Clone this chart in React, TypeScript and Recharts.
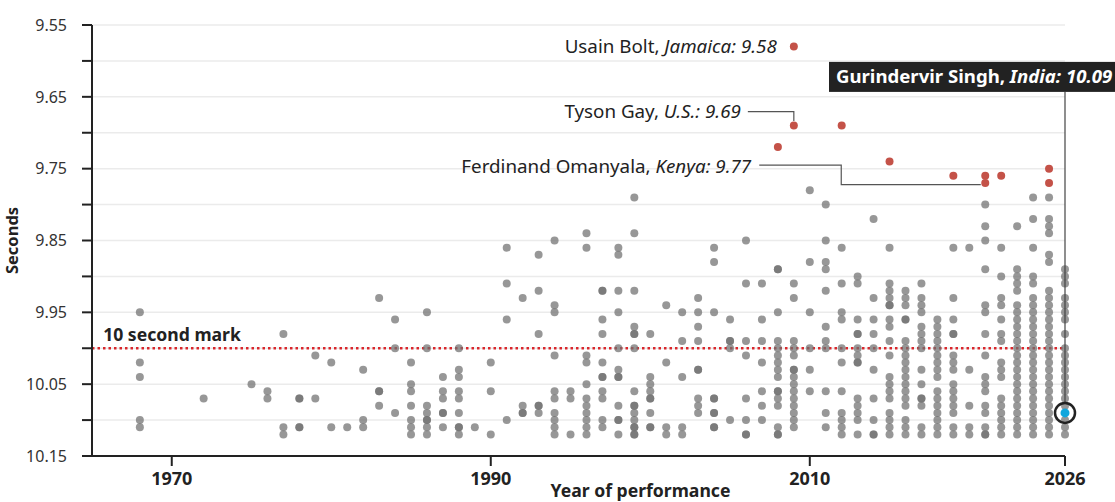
import React from 'react';
import { ScatterChart, Scatter, XAxis, YAxis, CartesianGrid, ReferenceLine, ReferenceDot } from 'recharts';

// axis ticks
const yearTicks = [1970, 1990, 2010, 2026];
const secondTicks = [9.55, 9.6, 9.65, 9.7, 9.75, 9.8, 9.85, 9.9, 9.95, 10, 10.05, 10.1, 10.15];
const labelledSecondTicks = [9.55, 9.65, 9.75, 9.85, 9.95, 10.05, 10.15];

// sub-10.13 performances, [year, times]
const gray1960s1970s: [number, number[]][] = [
  [1968, [9.95, 10.02, 10.04, 10.1, 10.11]],
  [1972, [10.07]],
  [1975, [10.05]],
  [1976, [10.06, 10.07]],
  [1977, [9.98, 10.11, 10.12]],
  [1978, [10.07, 10.07, 10.11, 10.11]],
  [1979, [10.01, 10.07]],
];

const gray1980s: [number, number[]][] = [
  [1980, [10.02, 10.11]],
  [1981, [10.11]],
  [1982, [10.03, 10.1, 10.11]],
  [1983, [9.93, 10.06, 10.06, 10.08]],
  [1984, [9.96, 10.0, 10.09]],
  [1985, [10.02, 10.05, 10.06, 10.08, 10.1, 10.11, 10.12]],
  [1986, [9.95, 10.0, 10.08, 10.09, 10.1, 10.1, 10.11, 10.12]],
  [1987, [10.04, 10.06, 10.07, 10.09, 10.09, 10.11]],
  [1988, [10.0, 10.03, 10.04, 10.06, 10.07, 10.09, 10.11, 10.11, 10.12]],
  [1989, [10.11]],
];

const gray1990s: [number, number[]][] = [
  [1990, [10.02, 10.06, 10.12]],
  [1991, [9.86, 9.91, 9.96, 10.1]],
  [1992, [9.93, 10.08, 10.09, 10.09]],
  [1993, [9.87, 9.92, 9.98, 10.08, 10.08, 10.09]],
  [1994, [9.85, 9.94, 9.95, 10.01, 10.06, 10.07, 10.09, 10.1, 10.11, 10.12]],
  [1995, [10.06, 10.07, 10.12]],
  [1996, [9.84, 9.86, 10.01, 10.02, 10.05, 10.07, 10.08, 10.09, 10.1, 10.11, 10.12]],
  [1997, [9.92, 9.92, 9.96, 9.98, 10.02, 10.04, 10.04, 10.06, 10.07, 10.1, 10.11]],
  [1998, [9.86, 9.87, 9.92, 9.95, 10.0, 10.03, 10.04, 10.04, 10.08, 10.1, 10.1, 10.12]],
  [1999, [9.79, 9.84, 9.92, 9.97, 9.98, 9.98, 10.0, 10.06, 10.08, 10.08, 10.09, 10.1, 10.11, 10.11, 10.12, 10.12]],
];

const gray2000s: [number, number[]][] = [
  [2000, [9.98, 10.04, 10.05, 10.06, 10.07, 10.07, 10.09, 10.11, 10.11]],
  [2001, [9.94, 10.02, 10.11, 10.12]],
  [2002, [9.95, 9.99, 10.04, 10.11, 10.12]],
  [2003, [9.93, 9.95, 9.97, 9.99, 10.03, 10.03, 10.07, 10.08, 10.09]],
  [2004, [9.86, 9.88, 9.95, 10.07, 10.07, 10.09, 10.09, 10.11, 10.11]],
  [2005, [9.96, 9.99, 9.99, 10.0, 10.1]],
  [2006, [9.85, 9.91, 9.99, 10.01, 10.07, 10.1, 10.12, 10.12]],
  [2007, [9.91, 9.96, 9.99, 10.02, 10.06, 10.08, 10.1]],
  [2008, [9.89, 9.89, 9.95, 9.99, 10.0, 10.01, 10.02, 10.03, 10.04, 10.06, 10.06, 10.07, 10.08, 10.11, 10.12, 10.12]],
  [2009, [9.91, 9.93, 9.99, 10.0, 10.01, 10.03, 10.03, 10.04, 10.05, 10.06, 10.07, 10.08, 10.09, 10.1, 10.11]],
];

const gray2010s: [number, number[]][] = [
  [2010, [9.78, 9.88, 9.95, 10.0, 10.03, 10.06]],
  [2011, [9.8, 9.85, 9.88, 9.89, 9.92, 9.97, 9.99, 10.0, 10.06, 10.09, 10.11]],
  [2012, [9.86, 9.91, 9.95, 9.96, 10.0, 10.02, 10.06, 10.09, 10.1, 10.11, 10.12]],
  [2013, [9.9, 9.91, 9.96, 9.98, 9.98, 10.0, 10.01, 10.02, 10.02, 10.07, 10.08, 10.09, 10.1, 10.12]],
  [2014, [9.82, 9.93, 9.96, 9.98, 10.0, 10.03, 10.07, 10.1, 10.12, 10.12]],
  [2015, [9.86, 9.91, 9.92, 9.93, 9.94, 9.94, 9.96, 9.97, 9.99, 10.01, 10.04, 10.05, 10.06, 10.07, 10.09, 10.1, 10.11, 10.12]],
  [2016, [9.92, 9.93, 9.94, 9.96, 9.96, 9.99, 10.0, 10.01, 10.02, 10.03, 10.04, 10.05, 10.06, 10.07, 10.08, 10.1, 10.11, 10.12]],
  [2017, [9.91, 9.93, 9.94, 9.95, 9.97, 9.98, 9.99, 10.0, 10.03, 10.05, 10.07, 10.07, 10.08, 10.11, 10.12]],
  [2018, [9.96, 9.97, 9.98, 9.99, 10.0, 10.01, 10.02, 10.03, 10.04, 10.06, 10.07, 10.08, 10.09, 10.1, 10.11, 10.12]],
  [2019, [9.86, 9.93, 9.96, 9.98, 9.98, 10.01, 10.02, 10.03, 10.05, 10.06, 10.07, 10.08, 10.09, 10.11, 10.12]],
];

const gray2020s: [number, number[]][] = [
  [2020, [9.86, 10.03, 10.08, 10.11, 10.12]],
  [2021, [9.8, 9.83, 9.85, 9.89, 9.94, 9.95, 9.98, 10.01, 10.04, 10.05, 10.06, 10.08, 10.09, 10.11, 10.12, 10.12]],
  [2022, [9.86, 9.9, 9.93, 9.94, 9.96, 9.98, 9.99, 10.02, 10.03, 10.04, 10.07, 10.08, 10.09, 10.1, 10.11, 10.12]],
  [2023, [9.83, 9.89, 9.9, 9.91, 9.92, 9.94, 9.95, 9.96, 9.97, 9.98, 9.99, 10.0, 10.01, 10.02, 10.03, 10.04, 10.05, 10.06, 10.07, 10.08, 10.09, 10.1, 10.11, 10.12]],
  [2024, [9.79, 9.82, 9.86, 9.9, 9.91, 9.93, 9.94, 9.95, 9.96, 9.97, 9.98, 9.99, 10.0, 10.01, 10.02, 10.03, 10.04, 10.05, 10.06, 10.07, 10.08, 10.09, 10.1, 10.11, 10.12]],
  [2025, [9.79, 9.82, 9.83, 9.84, 9.87, 9.88, 9.92, 9.93, 9.94, 9.95, 9.96, 9.97, 9.98, 9.99, 10.0, 10.01, 10.02, 10.03, 10.04, 10.05, 10.06, 10.07, 10.08, 10.09, 10.1, 10.11, 10.12]],
  [2026, [9.89, 9.9, 9.91, 9.93, 9.94, 9.95, 9.96, 9.98, 10.0, 10.01, 10.02, 10.03, 10.04, 10.05, 10.06, 10.07, 10.08, 10.1, 10.11, 10.12]],
];

// fastest ever (red)
const fastestYears = [2008, 2009, 2009, 2012, 2015, 2019, 2021, 2021, 2022, 2025, 2025];
const fastestTimes = [9.72, 9.58, 9.69, 9.69, 9.74, 9.76, 9.76, 9.77, 9.76, 9.75, 9.77];

// highlighted runner
const singhYear = 2026;
const singhTime = 10.09;

const tenSecondMark = 10;

const grayPoints = [...gray1960s1970s, ...gray1980s, ...gray1990s, ...gray2000s, ...gray2010s, ...gray2020s].flatMap(
  ([year, times]) => times.map((time) => ({ year, time }))
);
const redPoints = fastestYears.map((year, i) => ({ year, time: fastestTimes[i] }));
const singhPoints = [{ year: singhYear, time: singhTime }];

const INK = '#222';
const NOTE_SIZE = 18.8;

const GrayDot = (p: any) => <circle cx={p.cx} cy={p.cy} r={4} fill="#707070" fillOpacity={0.73} />;
const RedDot = (p: any) => <circle cx={p.cx} cy={p.cy} r={4} fill="#c45248" />;
const SinghDot = (p: any) => (
  <g>
    <circle cx={p.cx} cy={p.cy} r={10} fill="none" stroke={INK} strokeWidth={2.5} />
    <circle cx={p.cx} cy={p.cy} r={4.5} fill="#10a6dd" />
  </g>
);

const BoltLabel = (p: any) => (
  <text x={p.cx - 17} y={p.cy} dy="0.35em" textAnchor="end" fontSize={NOTE_SIZE} fill={INK}>
    Usain Bolt, <tspan fontStyle="italic">Jamaica: 9.58</tspan>
  </text>
);

const GayLabel = (p: any) => (
  <g>
    <path d={`M${p.cx - 46},${p.cy - 14} H${p.cx} V${p.cy - 4.5}`} fill="none" stroke="#555" strokeWidth={1.2} />
    <text x={p.cx - 53} y={p.cy - 14} dy="0.35em" textAnchor="end" fontSize={NOTE_SIZE} fill={INK}>
      Tyson Gay, <tspan fontStyle="italic">U.S.: 9.69</tspan>
    </text>
  </g>
);

const OmanyalaLabel = (p: any) => (
  <g>
    <path
      d={`M${p.cx - 226},${p.cy - 18} H${p.cx - 144} V${p.cy + 1.5} H${p.cx - 4.5}`}
      fill="none"
      stroke="#555"
      strokeWidth={1.2}
    />
    <text x={p.cx - 234} y={p.cy - 16.5} dy="0.35em" textAnchor="end" fontSize={NOTE_SIZE} fill={INK}>
      Ferdinand Omanyala, <tspan fontStyle="italic">Kenya: 9.77</tspan>
    </text>
  </g>
);

const SinghLabel = (p: any) => (
  <g>
    <line x1={p.cx} x2={p.cx} y1={p.cy - 321} y2={p.cy - 10} stroke="#444" strokeWidth={1.2} />
    <rect x={p.cx - 236} y={p.cy - 351} width={286} height={30} fill={INK} />
    <text x={p.cx - 229} y={p.cy - 336} dy="0.35em" fontSize={18.6} fontWeight={700} fill="#fff">
      Gurindervir Singh, <tspan fontStyle="italic">India: 10.09</tspan>
    </text>
  </g>
);

const TenSecondLabel = (p: any) => (
  <text x={p.cx} y={p.cy - 7} fontSize={17.6} fontWeight={700} fill={INK}>
    10 second mark
  </text>
);

const fmtSeconds = (v: number) => (labelledSecondTicks.some((t) => Math.abs(t - v) < 1e-6) ? v.toFixed(2) : '');

export default function App() {
  return (
    <div style={{ position: 'absolute', left: 0, top: 0, fontFamily: '"Noto Sans", sans-serif' }}>
      <ScatterChart width={1115} height={502} margin={{ top: 25, right: 50, bottom: 0, left: 0 }}>
        <CartesianGrid vertical={false} stroke="#ebebeb" strokeWidth={1.5} />
        <XAxis
          type="number"
          dataKey="year"
          domain={[1965, 2026]}
          ticks={yearTicks}
          height={46}
          tickSize={10}
          tickMargin={6}
          axisLine={{ stroke: INK, strokeWidth: 2 }}
          tickLine={{ stroke: INK, strokeWidth: 2 }}
          tick={{ fontSize: 18, fontWeight: 700, fill: INK }}
          label={{
            value: 'Year of performance',
            position: 'insideBottom',
            offset: 5,
            dx: 62,
            fontSize: 17.6,
            fontWeight: 700,
            fill: INK,
          }}
        />
        <YAxis
          type="number"
          dataKey="time"
          domain={[9.55, 10.15]}
          reversed
          ticks={secondTicks}
          interval={0}
          width={92}
          tickSize={10}
          tickMargin={15}
          tickFormatter={fmtSeconds}
          axisLine={{ stroke: INK, strokeWidth: 2 }}
          tickLine={{ stroke: INK, strokeWidth: 2 }}
          tick={{ fontSize: 16, fill: '#333' }}
          label={{
            value: 'Seconds',
            angle: -90,
            position: 'insideLeft',
            offset: 12,
            fontSize: 16.5,
            fontWeight: 700,
            fill: INK,
            style: { textAnchor: 'middle' },
          }}
        />
        <Scatter data={grayPoints} shape={GrayDot} isAnimationActive={false} />
        <Scatter data={redPoints} shape={RedDot} isAnimationActive={false} />
        <ReferenceLine y={tenSecondMark} stroke="#d9262b" strokeWidth={2.5} strokeDasharray="2.5 3" />
        <ReferenceDot x={1965.7} y={tenSecondMark} shape={TenSecondLabel} />
        <ReferenceDot x={fastestYears[1]} y={fastestTimes[1]} shape={BoltLabel} />
        <ReferenceDot x={fastestYears[2]} y={fastestTimes[2]} shape={GayLabel} />
        <ReferenceDot x={fastestYears[7]} y={fastestTimes[7]} shape={OmanyalaLabel} />
        <ReferenceDot x={singhYear} y={singhTime} shape={SinghLabel} />
        <Scatter data={singhPoints} shape={SinghDot} isAnimationActive={false} />
      </ScatterChart>
    </div>
  );
}
